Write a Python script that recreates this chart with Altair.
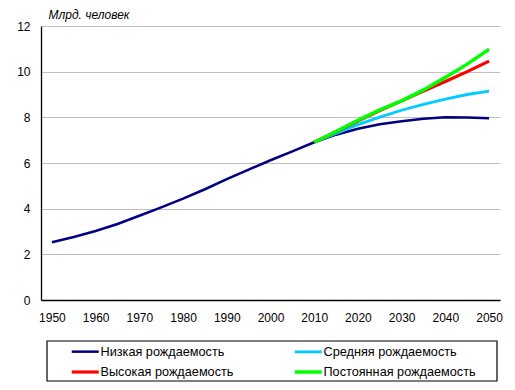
import altair as alt
import pandas as pd

# ---- data (billions of people) ----
hist_years = [1950, 1955, 1960, 1965, 1970, 1975, 1980, 1985, 1990, 1995, 2000, 2005, 2010]
hist_pop = [2.53, 2.76, 3.02, 3.33, 3.69, 4.06, 4.44, 4.85, 5.29, 5.71, 6.12, 6.51, 6.91]

proj_years = [2010, 2015, 2020, 2025, 2030, 2035, 2040, 2045, 2050]
low = [6.91, 7.24, 7.50, 7.70, 7.83, 7.94, 8.00, 7.99, 7.96]
medium = [6.91, 7.30, 7.68, 8.01, 8.31, 8.57, 8.80, 9.00, 9.15]
high = [6.91, 7.37, 7.84, 8.30, 8.72, 9.15, 9.57, 10.00, 10.46]
constant = [6.91, 7.38, 7.87, 8.33, 8.72, 9.20, 9.75, 10.33, 10.98]

series_names = ["Низкая рождаемость", "Средняя рождаемость",
                "Высокая рождаемость", "Постоянная рождаемость"]
series_colors = ["#000080", "#00CCFF", "#FF0000", "#00FF00"]
series_widths = [2.5, 3.5, 1.8, 1.8]

x_ticks = [1950, 1960, 1970, 1980, 1990, 2000, 2010, 2020, 2030, 2040, 2050]
y_ticks = [0, 2, 4, 6, 8, 10, 12]

rows = []
for y, v in zip(hist_years, hist_pop):
    rows.append({"year": y, "pop": v, "series": series_names[0]})
for name, vals in zip(series_names, [low, medium, high, constant]):
    for y, v in zip(proj_years, vals):
        if name == series_names[0] and y == 2010:
            continue
        rows.append({"year": y, "pop": v, "series": name})
df = pd.DataFrame(rows)

FONT = "Liberation Sans"

color = alt.Color(
    "series:N",
    scale=alt.Scale(domain=series_names, range=series_colors),
    legend=alt.Legend(
        title=None,
        orient="none",
        legendX=29,
        legendY=317,
        direction="horizontal",
        columns=2,
        columnPadding=53,
        rowPadding=4.5,
        padding=0,
        symbolType="M-2,0L2,0",
        symbolSize=182,
        symbolOffset=6.75,
        symbolStrokeWidth=2.5,
        labelOffset=6.75,
        labelFont=FONT,
        labelFontSize=12.7,
        labelColor="#000000",
        labelLimit=300,
    ),
)
stroke_w = alt.StrokeWidth(
    "series:N",
    scale=alt.Scale(domain=series_names, range=series_widths),
    legend=None,
)

x_enc = alt.X(
    "year:Q",
    scale=alt.Scale(domain=[1947.5, 2052.5], nice=False, zero=False),
    axis=alt.Axis(
        values=x_ticks, format="d", title=None, grid=False, ticks=False,
        domainColor="#000000", domainWidth=1.3,
        labelFont=FONT, labelFontSize=12, labelColor="#000000", labelPadding=12,
        labelFlush=False,
    ),
)
y_enc = alt.Y(
    "pop:Q",
    scale=alt.Scale(domain=[0, 12], nice=False),
    axis=alt.Axis(
        values=y_ticks, title="Млрд. человек", titleAngle=0, titleX=7, titleY=-7.5,
        titleAlign="left", titleBaseline="alphabetic", titleFont=FONT,
        titleFontSize=12, titleFontStyle="italic", titleFontWeight="normal",
        titleColor="#000000",
        grid=True, gridColor="#C0C0C0", gridWidth=1, ticks=False,
        domainColor="#000000", domainWidth=1.3,
        labelFont=FONT, labelFontSize=12, labelColor="#000000", labelPadding=11,
    ),
)

layers = []
for name in series_names:
    layers.append(
        alt.Chart(df)
        .transform_filter(alt.datum.series == name)
        .mark_line(clip=True)
        .encode(x=x_enc, y=y_enc, color=color, strokeWidth=stroke_w)
    )

frame = (
    alt.Chart(pd.DataFrame({"k": [0]}))
    .mark_rect(filled=False, stroke="#000000", strokeWidth=1.2)
    .encode(x=alt.value(6), x2=alt.value(456), y=alt.value(315), y2=alt.value(355))
)

chart = (
    alt.layer(*layers, frame)
    .properties(
        width=459,
        height=274,
        autosize=alt.AutoSizeParams(type="none"),
        padding={"left": 33, "top": 18, "right": 7, "bottom": 82},
        background="#FFFFFF",
    )
    .configure_view(stroke=None)
)

chart.save("out.html", embed_options={"renderer": "svg", "actions": False})
